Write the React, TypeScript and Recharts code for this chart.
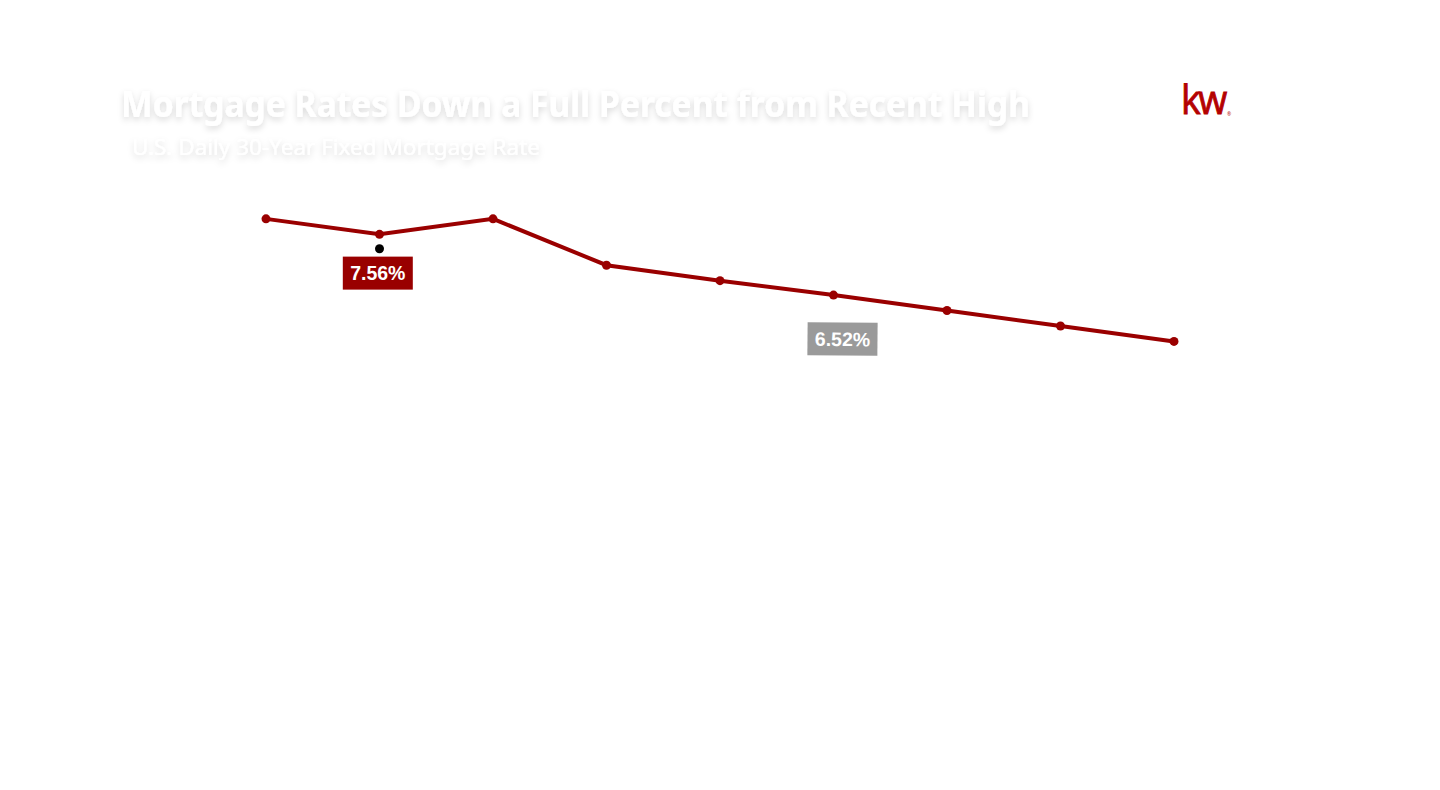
import React from 'react';
import { LineChart, Line, XAxis, YAxis, ReferenceDot } from 'recharts';

// daily 30-year fixed rate
const days = ['D1', 'D2', 'D3', 'D4', 'D5', 'D6', 'D7', 'D8', 'D9'];
const rates = [7.71, 7.56, 7.71, 7.26, 7.11, 6.97, 6.82, 6.67, 6.52];

// callouts: category the box hangs off, value it sits on, text
const calloutDays = ['D2', 'D6'];
const calloutValues = [7.56, 6.52];
const calloutLabels = ['7.56%', '6.52%'];

// small black marker under the second point
const markerDay = 'D2';
const markerValue = 7.42;

const yDomain = [6, 8];

const data = days.map((d, i) => ({ day: d, rate: rates[i] }));

const RED = '#9a0000';

function Callout({ cx, cy, text, fill, dx, dy, rotate = 0 }: any) {
  return (
    <g transform={`translate(${cx + dx}, ${cy + dy}) rotate(${rotate})`}>
      <rect x={-35} y={-16.5} width={70} height={33} fill={fill} />
      <text
        x={0}
        y={0}
        dy="0.36em"
        textAnchor="middle"
        fill="#ffffff"
        fontSize={19.5}
        fontWeight={700}
        fontFamily="'Liberation Sans', Arial, sans-serif"
      >
        {text}
      </text>
    </g>
  );
}

export default function App() {
  return (
    <div
      style={{
        position: 'absolute',
        left: 0,
        top: 0,
        width: 1440,
        height: 790,
        background: '#ffffff',
        overflow: 'hidden',
      }}
    >
      <svg width={1440} height={790} style={{ position: 'absolute', left: 0, top: 0 }}>
        <defs>
          <filter id="soft" x="-5%" y="-40%" width="110%" height="180%">
            <feDropShadow dx="0" dy="3" stdDeviation="3" floodColor="#000" floodOpacity="0.15" />
          </filter>
        </defs>
        <text
          x={121}
          y={117}
          fill="#ffffff"
          fontSize={36}
          fontWeight={700}
          fontFamily="'Noto Sans', 'Open Sans', sans-serif"
          textLength={909}
          lengthAdjust="spacingAndGlyphs"
          filter="url(#soft)"
        >
          Mortgage Rates Down a Full Percent from Recent High
        </text>
        <text
          x={132}
          y={155}
          fill="#ffffff"
          fontSize={21}
          fontFamily="'Noto Sans', 'Open Sans', sans-serif"
          textLength={408}
          lengthAdjust="spacingAndGlyphs"
          filter="url(#soft)"
        >
          U.S. Daily 30-Year Fixed Mortgage Rate
        </text>
        <text
          x={1181}
          y={114}
          fill="#b40101"
          stroke="#b40101"
          strokeWidth={0.9}
          fontSize={40}
          fontFamily="'Open Sans', sans-serif"
          letterSpacing={-2.5}
          textLength={44}
          lengthAdjust="spacingAndGlyphs"
        >
          kw
        </text>
        <text x={1227} y={116} fill="#b40101" fontSize={5} fontFamily="'Open Sans', sans-serif">
          ®
        </text>
      </svg>

      <div style={{ position: 'absolute', left: 0, top: 0 }}>
        <LineChart
          width={1440}
          height={790}
          data={data}
          margin={{ top: 189, right: 266, bottom: 395, left: 266 }}
        >
          <XAxis dataKey="day" hide />
          <YAxis type="number" domain={yDomain} hide />
          <Line
            type="linear"
            dataKey="rate"
            stroke={RED}
            strokeWidth={4}
            dot={{ r: 4.5, fill: RED, stroke: RED, strokeWidth: 0 }}
            activeDot={false}
            isAnimationActive={false}
          />
          <ReferenceDot
            x={markerDay}
            y={markerValue}
            r={4.5}
            fill="#000000"
            stroke="none"
          />
          <ReferenceDot
            x={calloutDays[0]}
            y={calloutValues[0]}
            r={0}
            shape={(p: any) => (
              <Callout cx={p.cx} cy={p.cy} text={calloutLabels[0]} fill="#990000" dx={-1.7} dy={38.8} />
            )}
          />
          <ReferenceDot
            x={calloutDays[1]}
            y={calloutValues[1]}
            r={0}
            shape={(p: any) => (
              <Callout cx={p.cx} cy={p.cy} text={calloutLabels[1]} fill="#9a9a9a" dx={9} dy={-2.4} rotate={0.5} />
            )}
          />
        </LineChart>
      </div>
    </div>
  );
}
